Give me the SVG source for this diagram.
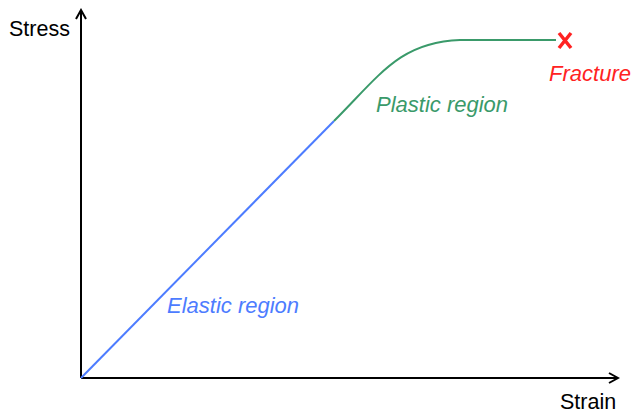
<svg xmlns="http://www.w3.org/2000/svg" width="640" height="416" viewBox="0 0 640 416">
<style>
text{font-family:"Liberation Sans",Arial,sans-serif;font-size:21.5px}
.it{font-style:italic;font-size:22px}
</style>
<defs>
<marker id="ah" viewBox="0 0 12 12" refX="10" refY="6" markerWidth="12" markerHeight="12" markerUnits="userSpaceOnUse" orient="auto">
<path d="M1,1 L10,6 L1,11" fill="none" stroke="#000" stroke-width="2"/>
</marker>
</defs>
<rect width="640" height="416" fill="#fff"/>
<g id="connectors">
<line x1="81" y1="378" x2="81" y2="10" stroke="#000" stroke-width="2" marker-end="url(#ah)"/>
<line x1="81" y1="378" x2="618" y2="378" stroke="#000" stroke-width="2" marker-end="url(#ah)"/>
<path d="M81,378 L334,121" stroke="#4d7cff" stroke-width="2" fill="none"/>
<path d="M334,121 C380,75 400,42 460,40 L556,40" stroke="#3a9a6a" stroke-width="2" fill="none"/>
</g>
<g id="fracture">
<path d="M559,33 L571,48 M571,33 L559,48" stroke="#ff2222" stroke-width="3.5" fill="none"/>
<text class="it" x="590" y="81" text-anchor="middle" fill="#ff2222">Fracture</text>
</g>
<g id="labels">
<text x="9" y="36">Stress</text>
<text x="560" y="409">Strain</text>
<text class="it" x="167" y="313" fill="#4d7cff">Elastic region</text>
<text class="it" x="376" y="112" fill="#3a9a6a">Plastic region</text>
</g>
</svg>
